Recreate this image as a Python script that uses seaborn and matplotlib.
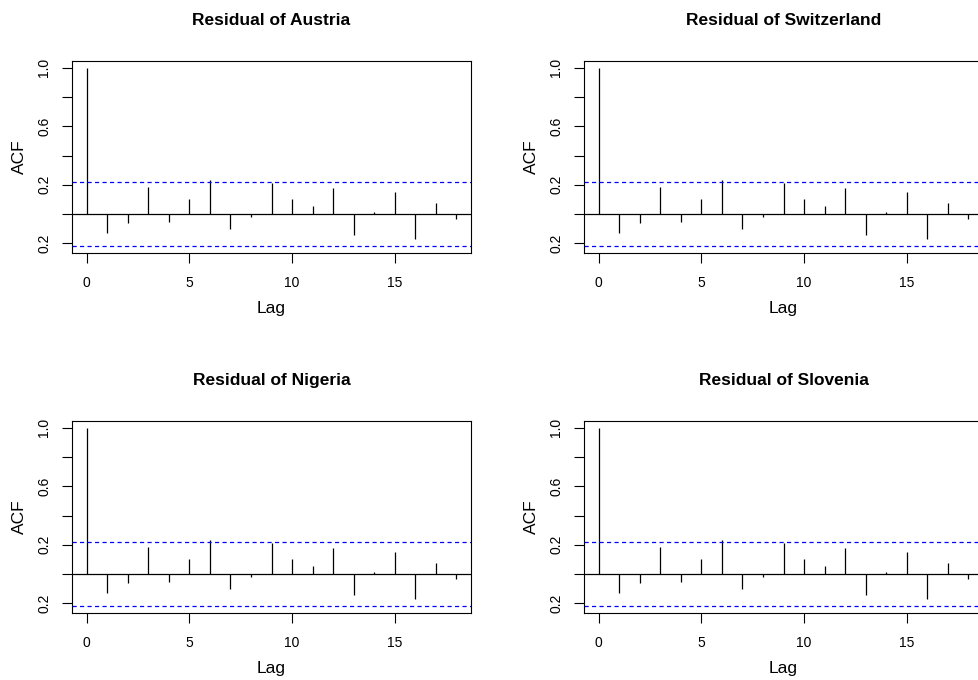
import matplotlib
matplotlib.use("Agg")
import matplotlib.pyplot as plt
import seaborn as sns
import numpy as np

# ACF of residuals (same shape in every panel)
countries = ["Austria", "Switzerland", "Nigeria", "Slovenia"]
lags = list(range(19))
acf_values = [1.0, -0.13, -0.064, 0.182, -0.055, 0.102, 0.23, -0.10, -0.02,
              0.211, 0.102, 0.055, 0.177, -0.145, 0.011, 0.148, -0.168, 0.073,
              -0.034]
conf_limit = 0.22
y_ticks = [-0.2, 0.0, 0.2, 0.4, 0.6, 0.8, 1.0]
y_labels = ["0.2", "", "0.2", "", "0.6", "", "1.0"]
x_ticks = [0, 5, 10, 15]

sns.set_style("ticks")
plt.rcParams["font.family"] = ["Liberation Sans", "DejaVu Sans"]
plt.rcParams["lines.scale_dashes"] = False
plt.rcParams["text.color"] = "black"
plt.rcParams["axes.labelcolor"] = "black"

W, H = 979, 680
fig = plt.figure(figsize=(W / 100, H / 100), dpi=100)

# panel boxes in pixels: (left, top, width, height)
boxes = [(72, 60.7, 399, 192.6), (584, 60.7, 399, 192.6),
         (72, 420.7, 399, 192.6), (584, 420.7, 399, 192.6)]

for country, (bx, by, bw, bh) in zip(countries, boxes):
    ax = fig.add_axes([bx / W, 1 - (by + bh) / H, bw / W, bh / H])
    ax.vlines(lags, 0, acf_values, color="black", lw=0.9)
    ax.axhline(0, color="black", lw=0.9)
    for c in (conf_limit, -conf_limit):
        ax.axhline(c, color="#0000ff", lw=0.9, linestyle=(0, (3.0, 2.4)))
    ax.set_xlim(-0.72, 18.72)
    ax.set_ylim(-0.269, 1.049)
    ax.set_xticks(x_ticks)
    ax.set_yticks(y_ticks)
    ax.set_yticklabels(y_labels, rotation=90, va="center")
    ax.tick_params(axis="both", direction="out", length=7, width=0.8,
                   labelsize=10, color="black", labelcolor="black")
    ax.tick_params(axis="x", pad=9)
    ax.tick_params(axis="y", pad=8)
    for s in ax.spines.values():
        s.set_visible(True)
        s.set_linewidth(0.8)
        s.set_color("black")
    ax.set_xlabel("Lag", fontsize=12.5, labelpad=8)
    ax.set_ylabel("ACF", fontsize=12.5, labelpad=7)
    ax.set_title(f"Residual of {country}", fontsize=12.5, fontweight="bold",
                 pad=26, color="black")

fig.savefig("out.png", dpi=100)
